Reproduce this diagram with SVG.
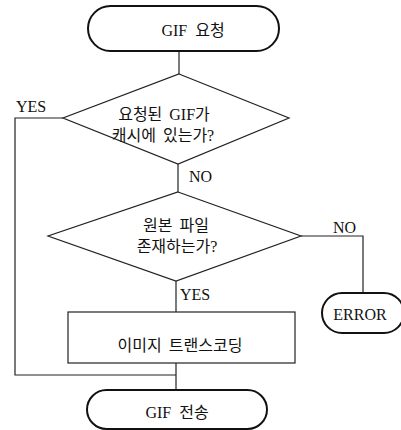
<svg xmlns="http://www.w3.org/2000/svg" width="401" height="430" viewBox="0 0 401 430">
<style>
.t{font-family:"Liberation Serif","Noto Sans CJK KR",serif;font-size:16px;fill:#111}
.m{text-anchor:middle}
.term{fill:#fff;stroke:#111;stroke-width:2}
.shp{fill:#fff;stroke:#222;stroke-width:1.2}
.ln{fill:none;stroke:#222;stroke-width:1.2}
</style>
<rect width="401" height="430" fill="#fff"/>
<g id="connectors">
<path class="ln" d="M179 51V74"/>
<path class="ln" d="M63 118H15V375H176"/>
<path class="ln" d="M178 164V192"/>
<path class="ln" d="M301 236H363V293"/>
<path class="ln" d="M176 281V312"/>
<path class="ln" d="M176 363V390"/>
<text class="t" x="16" y="112">YES</text>
<text class="t" x="189" y="182">NO</text>
<text class="t" x="333" y="233">NO</text>
<text class="t" x="180" y="300">YES</text>
</g>
<g id="start">
<rect class="term" x="88" y="6" width="191" height="45" rx="22.5"/>
<text class="t m" x="193" y="36" word-spacing="4">GIF 요청</text>
</g>
<g id="cache">
<polygon class="shp" points="179,74 289,118 178,164 63,118"/>
<text class="t m" x="164" y="120" word-spacing="3">요청된 GIF가</text>
<text class="t m" x="163" y="141" word-spacing="3">캐시에 있는가?</text>
</g>
<g id="exists">
<polygon class="shp" points="178,192 301,236 176,281 48,236"/>
<text class="t m" x="176" y="231" word-spacing="3">원본 파일</text>
<text class="t m" x="177" y="252">존재하는가?</text>
</g>
<g id="error">
<rect class="term" x="322" y="293" width="82" height="40" rx="20"/>
<text class="t m" x="360" y="320">ERROR</text>
</g>
<g id="transcode">
<rect class="shp" x="68" y="312" width="227" height="51"/>
<text class="t m" x="180" y="351" word-spacing="3">이미지 트랜스코딩</text>
</g>
<g id="send">
<rect class="term" x="87" y="390" width="180" height="39" rx="19.5"/>
<text class="t m" x="177" y="418" word-spacing="4">GIF 전송</text>
</g>
</svg>
